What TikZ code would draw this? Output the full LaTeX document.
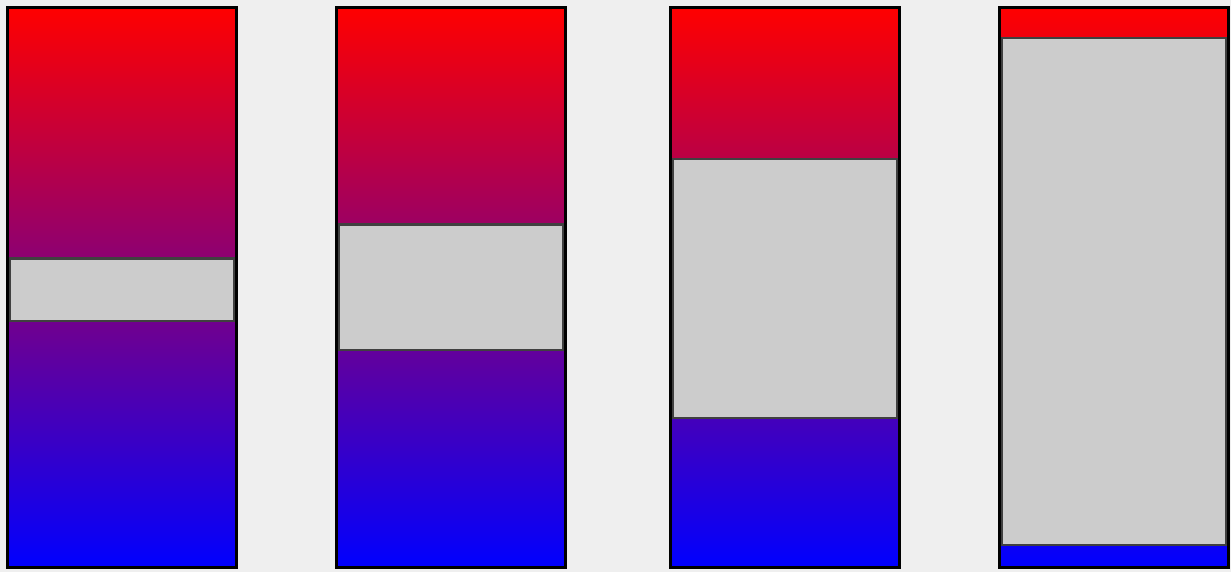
\documentclass[tikz,border=0pt]{standalone}
\usepackage{xcolor}
\definecolor{bgcol}{HTML}{EFEFEF}
\definecolor{midgray}{HTML}{CCCCCC}
\definecolor{edgegray}{HTML}{404040}
\tikzset{
  barfill/.style={top color=red,bottom color=blue},
  barframe/.style={draw=black,line width=3},
  gapbox/.style={fill=midgray,draw=edgegray,line width=2.5}
}

\begin{document}
\begin{tikzpicture}[x=1pt,y=-1pt]
  \fill[bgcol] (0,0) rectangle (1231,572);
  \useasboundingbox (0,0) rectangle (1231,572);
  \foreach \l/\t/\b in {6/257/322, 335/223/351, 669/158/419, 998/37/546}{
    \shade[barfill] (\l+1.5,7.5) rectangle (\l+230.5,567.5);
    \draw[gapbox] (\l+4,\t+1.25) rectangle (\l+228,\b-1.25);
    \draw[barframe] (\l+1.5,7.5) rectangle (\l+230.5,567.5);
  }
\end{tikzpicture}
\end{document}
